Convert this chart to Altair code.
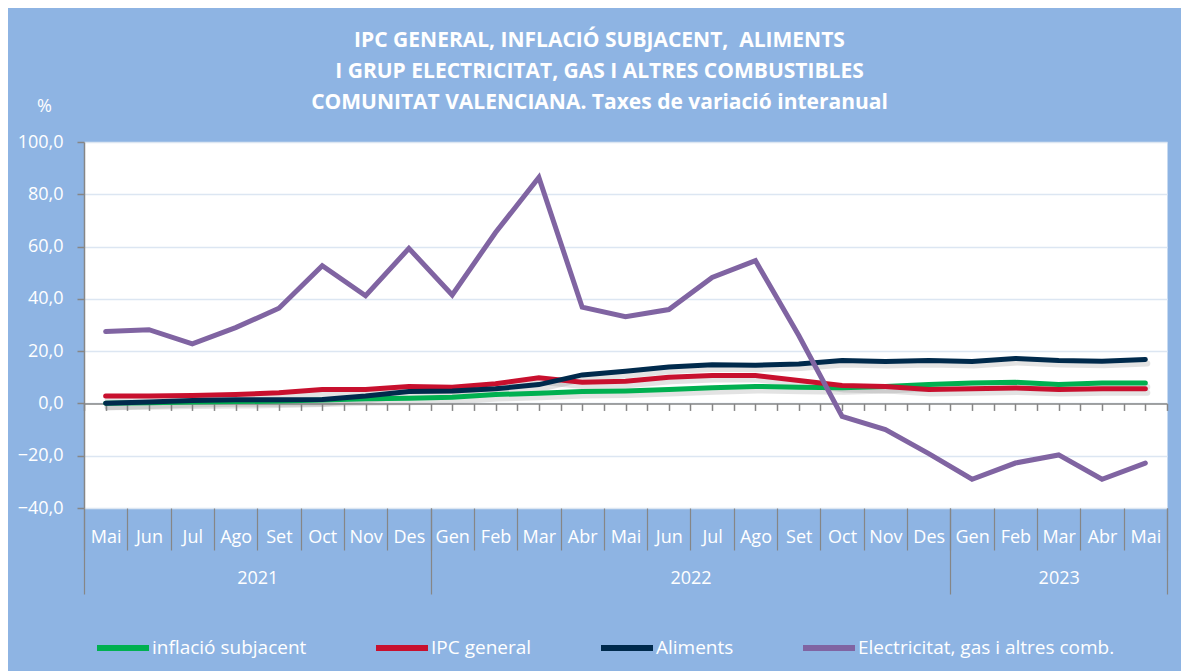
import altair as alt
import pandas as pd

months = ["Mai", "Jun", "Jul", "Ago", "Set", "Oct", "Nov", "Des",
          "Gen", "Feb", "Mar", "Abr", "Mai", "Jun", "Jul", "Ago", "Set", "Oct", "Nov", "Des",
          "Gen", "Feb", "Mar", "Abr", "Mai"]
years = ["2021", "2022", "2023"]
year_start = [0, 8, 20]
year_end = [7, 19, 24]

series = ["inflació subjacent", "IPC general", "Aliments", "Electricitat, gas i altres comb."]
subjacent = [0.1, 0.3, 0.5, 0.7, 0.9, 1.3, 1.8, 2.0, 2.4, 3.4, 3.9, 4.6, 4.8, 5.3, 6.0, 6.5,
             6.2, 6.0, 6.5, 7.2, 7.8, 8.1, 7.2, 7.8, 7.8]
ipc = [2.8, 2.8, 3.0, 3.4, 4.1, 5.3, 5.3, 6.5, 6.2, 7.5, 9.8, 8.1, 8.5, 10.0, 10.7, 10.7,
       8.8, 6.9, 6.5, 5.3, 5.6, 5.9, 5.3, 5.6, 5.6]
aliments = [0.1, 0.5, 1.1, 1.4, 1.4, 1.5, 2.8, 4.6, 4.8, 5.6, 7.2, 10.9, 12.3, 13.9, 14.8, 14.6,
            15.1, 16.4, 16.0, 16.4, 16.0, 17.2, 16.4, 16.1, 16.8]
electricitat = [27.5, 28.2, 22.8, 29.0, 36.4, 52.7, 41.2, 59.3, 41.5, 65.4, 86.4, 36.8, 33.2, 35.9,
                48.2, 54.6, 26.0, -5.0, -10.0, -19.2, -29.0, -22.8, -19.7, -29.0, -22.8]
colors = ["#00B050", "#C8102E", "#002A4C", "#8064A2"]

title_lines = ["IPC GENERAL, INFLACIÓ SUBJACENT,\u00a0 ALIMENTS",
               "I GRUP ELECTRICITAT, GAS I ALTRES COMBUSTIBLES",
               "COMUNITAT VALENCIANA. Taxes de variació interanual"]

values = dict(zip(series, [subjacent, ipc, aliments, electricitat]))
n = len(months)
df = pd.DataFrame([{"idx": i, "mes": months[i], "serie": s, "valor": v}
                   for s in series for i, v in enumerate(values[s])])

W, H = 1083, 366
YMIN, YMAX = -40, 100
zero_offset = -(H - H * (YMAX - 0) / (YMAX - YMIN))
FONT = "Open Sans"
GREY = "#868686"
BG = "#8EB4E3"

x_scale = alt.Scale(domain=[-0.5, n - 0.5], nice=False, zero=False)
y_scale = alt.Scale(domain=[YMIN, YMAX], nice=False, zero=False)
color_scale = alt.Scale(domain=series, range=colors)

month_lbl = "[" + ",".join(f"'{m}'" for m in months) + "][datum.value]"
year_centers = [(a + b) / 2 for a, b in zip(year_start, year_end)]
year_lbl = ("[" + ",".join(f"'{y}'" for y in years) + "][indexof(["
            + ",".join(str(c) for c in year_centers) + "], datum.value)]")

y_axis = alt.Axis(values=list(range(YMIN, YMAX + 1, 20)),
                  labelExpr="replace(format(datum.value, '.1f'), '.', ',')",
                  labelColor="white", labelFontSize=18, labelFont=FONT, labelPadding=14,
                  tickColor=GREY, tickSize=7, tickWidth=1.5, domainColor=GREY, domainWidth=1.5,
                  gridColor="#DCE6F2", gridWidth=1.5,
                  title="%", titleAngle=0, titleX=-40, titleY=-36, titleColor="white",
                  titleFontSize=18, titleFont=FONT, titleFontWeight="normal",
                  titleAlign="center", titleBaseline="middle")

axis_zero = alt.Axis(orient="bottom", offset=zero_offset,
                     values=[i / 2 - 0.5 for i in range(2 * n + 1)], labels=False, title=None,
                     grid=False, domainColor=GREY, domainWidth=1.5, tickColor=GREY,
                     tickSize=7, tickWidth=1.5)
axis_msep = alt.Axis(orient="bottom", values=[i - 0.5 for i in range(n + 1)], labels=False,
                     title=None, grid=False, domain=False, tickColor=GREY, tickSize=42,
                     tickWidth=1.2)
axis_mlab = alt.Axis(orient="bottom", values=list(range(n)), labelExpr=month_lbl, ticks=False,
                     tickSize=0, domain=False, grid=False, title=None, labelColor="white",
                     labelFontSize=18, labelFont=FONT, labelPadding=29, labelBaseline="middle",
                     labelOverlap=False, labelFlush=False, labelBound=False)
axis_ysep = alt.Axis(orient="bottom",
                     values=[year_start[0] - 0.5] + [e + 0.5 for e in year_end],
                     labels=False, title=None, grid=False, domain=False, tickColor=GREY,
                     tickSize=86, tickWidth=1.2)
axis_ylab = alt.Axis(orient="bottom", values=year_centers, labelExpr=year_lbl, ticks=False,
                     tickSize=0, domain=False, grid=False, title=None, labelColor="white",
                     labelFontSize=18, labelFont=FONT, labelPadding=70, labelBaseline="middle",
                     labelOverlap=False, labelFlush=False, labelBound=False)

legend = alt.Legend(orient="none", legendX=10, legendY=477, direction="horizontal", columns=4,
                    symbolType="stroke", symbolSize=2704, symbolStrokeWidth=6,
                    labelColor="white", labelFontSize=19, labelFont=FONT, labelLimit=400,
                    columnPadding=57, labelOffset=0, title=None, padding=0, gridAlign="none")

base = alt.Chart(df)

shadow = base.transform_filter(
    alt.FieldOneOfPredicate(field="serie", oneOf=series[:3])
).mark_line(color="#808080", opacity=0.22, strokeWidth=6, xOffset=2, yOffset=4,
            strokeCap="round").encode(
    x=alt.X("idx:Q", scale=x_scale, axis=axis_ylab),
    y=alt.Y("valor:Q", scale=y_scale, axis=y_axis),
    detail="serie:N",
)


def series_layer(name, x_axis, show_legend=False):
    return base.transform_filter(alt.datum.serie == name).mark_line(
        strokeWidth=5, strokeCap="round"
    ).encode(
        x=alt.X("idx:Q", scale=x_scale, axis=x_axis),
        y=alt.Y("valor:Q", scale=y_scale, axis=y_axis),
        color=alt.Color("serie:N", scale=color_scale, legend=legend if show_legend else None),
    )


layers = [
    shadow,
    series_layer(series[0], axis_zero, show_legend=True),
    series_layer(series[1], axis_msep),
    series_layer(series[2], axis_mlab),
    series_layer(series[3], axis_ysep),
]

chart = alt.layer(*layers).resolve_axis(x="independent").properties(
    width=W, height=H,
    padding={"left": 76, "top": 134, "right": 14, "bottom": 163},
    autosize=alt.AutoSizeParams(type="none"),
    background=BG,
    title=alt.TitleParams(text=title_lines, font=FONT, fontSize=21, fontWeight="bold",
                          color="white", anchor="middle", dx=-26, offset=-16,
                          lineHeight=31, frame="group"),
).configure_view(fill="white", stroke="transparent")

chart.save("out.html", embed_options={"renderer": "svg", "actions": False})
